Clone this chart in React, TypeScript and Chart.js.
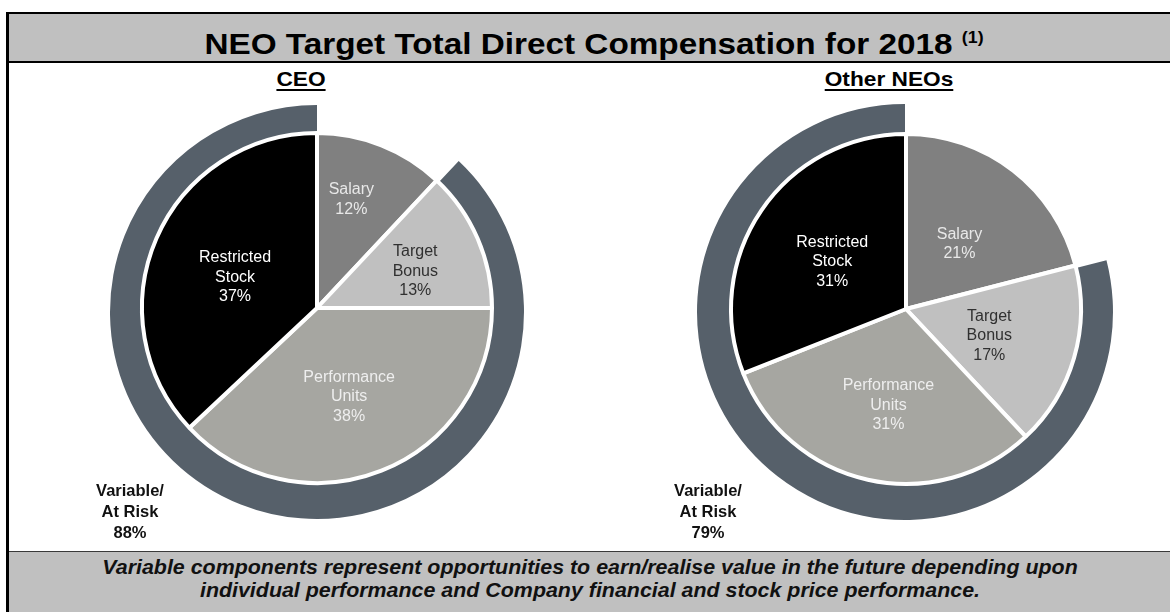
import React, { useEffect, useRef } from "react";
import { Chart, registerables } from "chart.js";

Chart.register(...registerables);

const categories = ["Salary", "Target\nBonus", "Performance\nUnits", "Restricted\nStock"];
const ceoValues = [12, 13, 38, 37];
const otherValues = [21, 17, 31, 31];
const atRiskValues = [88, 79];
const groupTitles = ["CEO", "Other NEOs"];

const sliceColors = ["#808080", "#c0c0c0", "#a6a6a1", "#000000"];
const labelColors = ["#e8e8e8", "#303030", "#eeeeee", "#ffffff"];
const ringColor = "#56606a";
const FONT = '"Liberation Sans", Arial, sans-serif';

const sliceLabelPlugin = {
  id: "sliceLabels",
  afterDatasetsDraw(chart: any, _args: any, opts: any) {
    const meta = chart.getDatasetMeta(0);
    const ctx = chart.ctx;
    const vals = chart.data.datasets[0].data;
    ctx.save();
    ctx.font = `16px ${FONT}`;
    ctx.textAlign = "center";
    ctx.textBaseline = "middle";
    meta.data.forEach((arc: any, i: number) => {
      const p = arc.getProps(["x", "y", "startAngle", "endAngle", "outerRadius"], true);
      const mid = (p.startAngle + p.endAngle) / 2 + (opts.angleShift?.[i] || 0);
      const r = p.outerRadius * opts.factors[i];
      const cx = p.x + Math.cos(mid) * r;
      const cy = p.y + Math.sin(mid) * r;
      const lines = [...String(chart.data.labels[i]).split("\n"), `${vals[i]}%`];
      const lh = 19.5;
      ctx.fillStyle = labelColors[i];
      lines.forEach((ln, k) => {
        ctx.fillText(ln, cx, cy + (k - (lines.length - 1) / 2) * lh);
      });
    });
    ctx.restore();
  },
};

const SIZE = 460;

function PieGroup({ values, atRisk, factors, angleShift, pieCenter, ringCenter, ringRadius }: any) {
  const pieRef = useRef<HTMLCanvasElement>(null);
  const ringRef = useRef<HTMLCanvasElement>(null);
  useEffect(() => {
    const ring = new Chart(ringRef.current as HTMLCanvasElement, {
      type: "doughnut",
      data: {
        labels: ["Fixed", "Variable/At Risk"],
        datasets: [
          {
            data: [100 - atRisk, atRisk],
            backgroundColor: ["rgba(0,0,0,0)", ringColor],
            borderWidth: 0,
          } as any,
        ],
      },
      options: {
        animation: false,
        responsive: false,
        radius: ringRadius,
        cutout: ringRadius - 25,
        events: [],
        layout: { padding: 0 },
        plugins: { legend: { display: false }, tooltip: { enabled: false } },
      },
    });
    const pie = new Chart(pieRef.current as HTMLCanvasElement, {
      type: "pie",
      data: {
        labels: categories,
        datasets: [
          {
            data: values,
            backgroundColor: sliceColors,
            borderColor: "#ffffff",
            borderWidth: 4,
            hoverBorderWidth: 4,
          } as any,
        ],
      },
      options: {
        animation: false,
        responsive: false,
        radius: 175,
        events: [],
        layout: { padding: 0 },
        plugins: {
          legend: { display: false },
          tooltip: { enabled: false },
          sliceLabels: { factors, angleShift },
        } as any,
      },
      plugins: [sliceLabelPlugin],
    });
    return () => {
      ring.destroy();
      pie.destroy();
    };
  }, []);
  return (
    <>
      <canvas
        ref={ringRef}
        width={SIZE}
        height={SIZE}
        style={{ position: "absolute", left: ringCenter[0] - SIZE / 2, top: ringCenter[1] - SIZE / 2, width: SIZE, height: SIZE }}
      />
      <canvas
        ref={pieRef}
        width={SIZE}
        height={SIZE}
        style={{ position: "absolute", left: pieCenter[0] - SIZE / 2, top: pieCenter[1] - SIZE / 2, width: SIZE, height: SIZE }}
      />
    </>
  );
}

function RiskText({ cx, value }: any) {
  return (
    <div
      style={{
        position: "absolute",
        left: cx - 60,
        top: 480,
        width: 120,
        textAlign: "center",
        fontWeight: "bold",
        fontSize: 16.5,
        lineHeight: "21px",
        color: "#111",
      }}
    >
      Variable/
      <br />
      At Risk
      <br />
      {value}%
    </div>
  );
}

export default function App() {
  return (
    <div
      style={{
        position: "fixed",
        left: 0,
        top: 0,
        width: 1170,
        height: 612,
        overflow: "hidden",
        background: "#fff",
        fontFamily: FONT,
      }}
    >
      <div
        style={{
          position: "absolute",
          left: 6,
          top: 12,
          width: 1300,
          height: 700,
          borderLeft: "3px solid #000",
          borderTop: "2px solid #000",
          boxSizing: "border-box",
        }}
      />
      <div
        style={{
          position: "absolute",
          left: 9,
          top: 14,
          width: 1170,
          height: 47,
          background: "#c0c0c0",
          borderBottom: "2.5px solid #000",
        }}
      />
      <div
        style={{
          position: "absolute",
          left: 594,
          top: 14,
          height: 47,
          lineHeight: "47px",
          whiteSpace: "nowrap",
          transform: "translateX(-50%) scaleX(1.11)",
          fontWeight: "bold",
          fontSize: 30,
          color: "#000",
        }}
      >
        NEO Target Total Direct Compensation for 2018{" "}
        <span style={{ fontSize: 16, verticalAlign: 11 }}>(1)</span>
      </div>
      {groupTitles.map((t, i) => (
        <div
          key={t}
          style={{
            position: "absolute",
            left: i === 0 ? 301 : 889,
            top: 66,
            transform: "translateX(-50%) scaleX(1.08)",
            fontWeight: "bold",
            fontSize: 21,
            lineHeight: "26px",
            textDecoration: "underline",
            textDecorationThickness: 2,
            textUnderlineOffset: 3,
            whiteSpace: "nowrap",
            color: "#000",
          }}
        >
          {t}
        </div>
      ))}
      <PieGroup
        values={ceoValues}
        atRisk={atRiskValues[0]}
        factors={[0.65, 0.6, 0.54, 0.5]}
        angleShift={[-0.07, 0.05, 0.03, -0.05]}
        pieCenter={[317, 308]}
        ringCenter={[317, 312]}
        ringRadius={207}
      />
      <PieGroup
        values={otherValues}
        atRisk={atRiskValues[1]}
        factors={[0.48, 0.5, 0.56, 0.5]}
        angleShift={[0.03, 0.03, -0.04, -0.03]}
        pieCenter={[906, 309]}
        ringCenter={[905, 312]}
        ringRadius={208}
      />
      <RiskText cx={130} value={atRiskValues[0]} />
      <RiskText cx={708} value={atRiskValues[1]} />
      <div
        style={{
          position: "absolute",
          left: 9,
          top: 551,
          width: 1170,
          height: 70,
          background: "#c0c0c0",
          borderTop: "1.5px solid #3a3a3a",
        }}
      />
      <div
        style={{
          position: "absolute",
          left: 590,
          top: 556,
          transform: "translateX(-50%) scaleX(1.07)",
          width: 1100,
          textAlign: "center",
          fontWeight: "bold",
          fontStyle: "italic",
          fontSize: 20,
          lineHeight: "23px",
          color: "#111",
        }}
      >
        Variable components represent opportunities to earn/realise value in the future depending upon
        <br />
        individual performance and Company financial and stock price performance.
      </div>
    </div>
  );
}
